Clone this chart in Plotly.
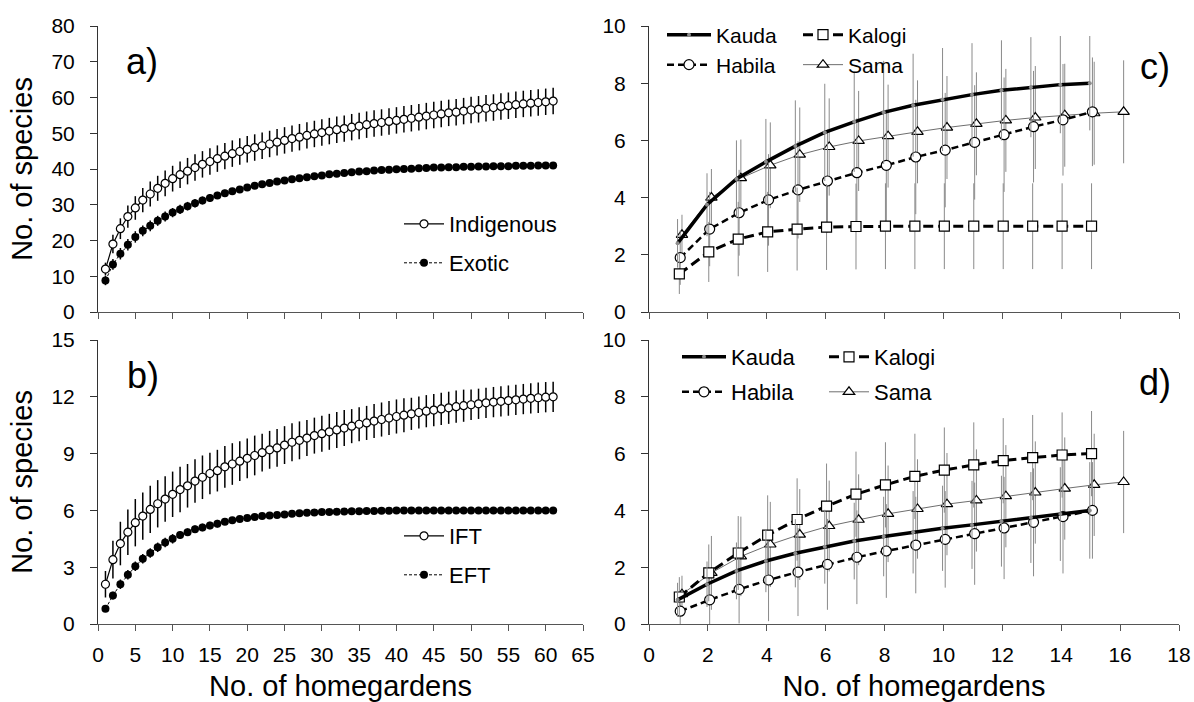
import plotly.graph_objects as go

FONT = "Liberation Sans, Arial, sans-serif"

# ---------------- data ----------------
n_gardens = list(range(1, 62))

indigenous = [12.0, 19.0, 23.3, 26.7, 29.1, 31.3, 33.0, 34.6, 36.0, 37.3,
              38.4, 39.4, 40.4, 41.3, 42.1, 42.9, 43.6, 44.3, 44.9, 45.5,
              46.0, 46.5, 47.0, 47.5, 48.0, 48.5, 48.9, 49.4, 49.8, 50.2,
              50.6, 51.0, 51.3, 51.7, 52.0, 52.4, 52.7, 53.0, 53.3, 53.6,
              53.9, 54.2, 54.5, 54.8, 55.1, 55.4, 55.7, 55.9, 56.2, 56.5,
              56.7, 57.0, 57.2, 57.5, 57.7, 58.0, 58.2, 58.4, 58.6, 58.8,
              59.0]
indigenous_sd = [1.8, 2.6, 2.9, 3.1, 3.3, 3.4, 3.5, 3.5, 3.6, 3.6,
                 3.7, 3.7, 3.7, 3.7, 3.7, 3.7, 3.7, 3.7, 3.7, 3.7,
                 3.7, 3.7, 3.7, 3.7, 3.7, 3.7, 3.7, 3.7, 3.7, 3.7,
                 3.7, 3.7, 3.7, 3.7, 3.7, 3.7, 3.7, 3.7, 3.7, 3.7,
                 3.7, 3.7, 3.7, 3.7, 3.7, 3.7, 3.7, 3.7, 3.7, 3.7,
                 3.7, 3.7, 3.7, 3.7, 3.7, 3.7, 3.7, 3.7, 3.7, 3.7,
                 3.7]
exotic = [8.8, 13.3, 16.3, 18.8, 21.0, 22.7, 24.1, 25.5, 26.7, 27.8,
          28.7, 29.6, 30.4, 31.2, 31.9, 32.6, 33.2, 33.8, 34.3, 34.8,
          35.3, 35.7, 36.1, 36.5, 36.8, 37.1, 37.4, 37.7, 38.0, 38.2,
          38.5, 38.7, 38.9, 39.1, 39.3, 39.4, 39.6, 39.7, 39.8, 39.9,
          40.0, 40.1, 40.2, 40.3, 40.4, 40.4, 40.5, 40.5, 40.6, 40.6,
          40.7, 40.7, 40.8, 40.8, 40.8, 40.9, 40.9, 40.9, 41.0, 41.0,
          41.0]
exotic_sd = [1.3, 1.5, 1.6, 1.6, 1.6, 1.5, 1.5, 1.4, 1.4, 1.3,
             1.3, 1.2, 1.2, 1.1, 1.1, 1.0, 1.0, 0.9, 0.9, 0.9,
             0.8, 0.8, 0.8, 0.7, 0.7, 0.7, 0.7, 0.6, 0.6, 0.6,
             0.6, 0.5, 0.5, 0.5, 0.5, 0.5, 0.4, 0.4, 0.4, 0.4,
             0.4, 0.4, 0.3, 0.3, 0.3, 0.3, 0.3, 0.3, 0.3, 0.3,
             0.2, 0.2, 0.2, 0.2, 0.2, 0.2, 0.2, 0.1, 0.1, 0.1,
             0.0]

ift = [2.1, 3.4, 4.25, 4.85, 5.35, 5.7, 6.05, 6.35, 6.6, 6.85,
       7.1, 7.3, 7.55, 7.75, 7.95, 8.1, 8.3, 8.45, 8.6, 8.75,
       8.9, 9.05, 9.2, 9.3, 9.45, 9.6, 9.7, 9.82, 9.95, 10.05,
       10.15, 10.25, 10.35, 10.45, 10.55, 10.62, 10.72, 10.8, 10.88, 10.96,
       11.03, 11.1, 11.17, 11.24, 11.3, 11.36, 11.42, 11.48, 11.53, 11.58,
       11.63, 11.68, 11.72, 11.76, 11.8, 11.84, 11.88, 11.92, 11.95, 11.98,
       12.0]
ift_sd = [0.7, 1.0, 1.15, 1.2, 1.25, 1.25, 1.25, 1.25, 1.2, 1.2,
          1.2, 1.15, 1.15, 1.15, 1.1, 1.1, 1.1, 1.1, 1.05, 1.05,
          1.05, 1.0, 1.0, 1.0, 1.0, 1.0, 1.0, 0.95, 0.95, 0.95,
          0.95, 0.95, 0.95, 0.9, 0.9, 0.9, 0.9, 0.9, 0.9, 0.9,
          0.9, 0.85, 0.85, 0.85, 0.85, 0.85, 0.85, 0.85, 0.85, 0.8,
          0.8, 0.8, 0.8, 0.8, 0.8, 0.8, 0.8, 0.8, 0.8, 0.8,
          0.8]
eft = [0.8, 1.5, 2.1, 2.6, 3.05, 3.45, 3.75, 4.05, 4.3, 4.5,
       4.7, 4.85, 5.0, 5.1, 5.2, 5.3, 5.4, 5.48, 5.55, 5.6,
       5.65, 5.7, 5.73, 5.76, 5.79, 5.82, 5.85, 5.87, 5.89, 5.91,
       5.92, 5.93, 5.94, 5.95, 5.96, 5.97, 5.97, 5.98, 5.98, 5.99,
       5.99, 5.99, 6.0, 6.0, 6.0, 6.0, 6.0, 6.0, 6.0, 6.0,
       6.0, 6.0, 6.0, 6.0, 6.0, 6.0, 6.0, 6.0, 6.0, 6.0,
       6.0]
eft_sd = [0.15, 0.2, 0.25, 0.25, 0.25, 0.25, 0.25, 0.25, 0.25, 0.25,
          0.2, 0.2, 0.2, 0.2, 0.2, 0.2, 0.15, 0.15, 0.15, 0.15,
          0.15, 0.15, 0.1, 0.1, 0.1, 0.1, 0.1, 0.1, 0.1, 0.1,
          0.05, 0.05, 0.05, 0.05, 0.05, 0.05, 0.05, 0.05, 0.05, 0.05,
          0.0, 0.0, 0.0, 0.0, 0.0, 0.0, 0.0, 0.0, 0.0, 0.0,
          0.0, 0.0, 0.0, 0.0, 0.0, 0.0, 0.0, 0.0, 0.0, 0.0,
          0.0]

n_village = list(range(1, 16))
n_sama = list(range(1, 17))

# panel c
c_kauda = [2.4, 3.75, 4.65, 5.25, 5.8, 6.28, 6.65, 6.98, 7.23, 7.43, 7.6, 7.75, 7.86, 7.95, 8.0]
c_kauda_sd = [0.85, 1.1, 1.35, 1.5, 1.6, 1.7, 1.75, 1.8, 1.8, 1.8, 1.8, 1.75, 1.75, 1.7, 1.65]
c_kalogi = [1.33, 2.1, 2.55, 2.8, 2.9, 2.97, 2.99, 3.0, 3.0, 3.0, 3.0, 3.0, 3.0, 3.0, 3.0]
c_kalogi_sd = [0.7, 1.05, 1.3, 1.4, 1.45, 1.5, 1.5, 1.5, 1.5, 1.5, 1.5, 1.5, 1.5, 1.5, 1.5]
c_habila = [1.9, 2.9, 3.47, 3.92, 4.27, 4.58, 4.87, 5.13, 5.42, 5.66, 5.93, 6.2, 6.48, 6.72, 7.0]
c_habila_sd = [0.95, 1.3, 1.5, 1.6, 1.7, 1.8, 1.9, 1.95, 2.0, 2.0, 2.0, 2.0, 1.95, 1.95, 1.9]
c_sama = [2.7, 4.0, 4.68, 5.13, 5.5, 5.77, 5.98, 6.15, 6.3, 6.45, 6.58, 6.7, 6.8, 6.88, 6.95, 7.0]
c_sama_sd = [0.7, 1.0, 1.35, 1.5, 1.65, 1.7, 1.75, 1.8, 1.8, 1.8, 1.8, 1.8, 1.8, 1.8, 1.8, 1.8]

# panel d
d_kauda = [0.85, 1.4, 1.87, 2.22, 2.49, 2.72, 2.92, 3.08, 3.23, 3.37, 3.49, 3.62, 3.75, 3.87, 4.0]
d_kauda_sd = [0.6, 0.8, 1.0, 1.1, 1.2, 1.3, 1.35, 1.4, 1.45, 1.5, 1.55, 1.6, 1.6, 1.65, 1.7]
d_kalogi = [0.95, 1.8, 2.5, 3.13, 3.68, 4.15, 4.57, 4.9, 5.2, 5.42, 5.6, 5.75, 5.86, 5.95, 6.0]
d_kalogi_sd = [0.7, 1.0, 1.3, 1.4, 1.45, 1.5, 1.5, 1.5, 1.5, 1.5, 1.5, 1.5, 1.5, 1.5, 1.5]
d_habila = [0.45, 0.85, 1.22, 1.55, 1.83, 2.1, 2.35, 2.57, 2.78, 2.98, 3.18, 3.38, 3.58, 3.78, 4.0]
d_habila_sd = [0.5, 0.85, 1.2, 1.45, 1.55, 1.6, 1.65, 1.65, 1.7, 1.7, 1.8, 1.8, 1.9, 2.0, 1.7]
d_sama = [1.05, 1.8, 2.38, 2.8, 3.15, 3.45, 3.67, 3.88, 4.05, 4.22, 4.35, 4.5, 4.63, 4.77, 4.9, 5.0]
d_sama_sd = [0.65, 1.3, 1.4, 1.5, 1.6, 1.6, 1.6, 1.7, 1.75, 1.8, 1.8, 1.8, 1.8, 1.8, 1.8, 1.8]

x_ticks_ab = [0, 5, 10, 15, 20, 25, 30, 35, 40, 45, 50, 55, 60, 65]
x_ticks_cd = [0, 2, 4, 6, 8, 10, 12, 14, 16, 18]

# ---------------- styles ----------------
shift = {"Kauda": -0.03, "Kalogi": 0.03, "Habila": 0.06, "Sama": 0.12}
GREY = "#8a8a8a"

fig = go.Figure()


def err(vals, color="black", thick=1.5):
    return dict(type="data", array=vals, visible=True, color=color, thickness=thick, width=0)


# panel a
fig.add_trace(go.Scatter(x=n_gardens, y=indigenous, mode="lines+markers", name="Indigenous",
                         line=dict(color="black", width=1.2),
                         marker=dict(symbol="circle", size=8, color="white", line=dict(color="black", width=1.2)),
                         error_y=err(indigenous_sd), xaxis="x", yaxis="y", legend="legend"))
fig.add_trace(go.Scatter(x=n_gardens, y=exotic, mode="lines+markers", name="Exotic",
                         line=dict(color="black", width=1, dash="3px,2px"),
                         marker=dict(symbol="circle", size=8, color="black"),
                         error_y=err(exotic_sd), xaxis="x", yaxis="y", legend="legend2"))
# panel b
fig.add_trace(go.Scatter(x=n_gardens, y=ift, mode="lines+markers", name="IFT",
                         line=dict(color="black", width=1.2),
                         marker=dict(symbol="circle", size=8, color="white", line=dict(color="black", width=1.2)),
                         error_y=err(ift_sd), xaxis="x2", yaxis="y2", legend="legend3"))
fig.add_trace(go.Scatter(x=n_gardens, y=eft, mode="lines+markers", name="EFT",
                         line=dict(color="black", width=1, dash="3px,2px"),
                         marker=dict(symbol="circle", size=8, color="black"),
                         error_y=err(eft_sd), xaxis="x2", yaxis="y2", legend="legend4"))


def village_traces(xa, ya, kauda, kauda_sd, kalogi, kalogi_sd, habila, habila_sd, sama, sama_sd, legs):
    fig.add_trace(go.Scatter(x=[v + shift["Sama"] for v in n_sama], y=sama, mode="lines+markers", name="Sama",
                             line=dict(color="#6e6e6e", width=1),
                             marker=dict(symbol="triangle-up", size=10, color="white", line=dict(color="black", width=1.2)),
                             error_y=err(sama_sd, GREY, 1), xaxis=xa, yaxis=ya, legend=legs[3]))
    fig.add_trace(go.Scatter(x=[v + shift["Habila"] for v in n_village], y=habila, mode="lines+markers", name="Habila",
                             line=dict(color="black", width=2.5, dash="7px,4px"),
                             marker=dict(symbol="circle", size=10, color="white", line=dict(color="black", width=1.2)),
                             error_y=err(habila_sd, GREY, 1), xaxis=xa, yaxis=ya, legend=legs[1]))
    fig.add_trace(go.Scatter(x=[v + shift["Kalogi"] for v in n_village], y=kalogi, mode="lines+markers", name="Kalogi",
                             line=dict(color="black", width=3, dash="10px,5px"),
                             marker=dict(symbol="square", size=10, color="white", line=dict(color="black", width=1.2)),
                             error_y=err(kalogi_sd, GREY, 1), xaxis=xa, yaxis=ya, legend=legs[2]))
    fig.add_trace(go.Scatter(x=[v + shift["Kauda"] for v in n_village], y=kauda, mode="lines+markers", name="Kauda",
                             line=dict(color="black", width=3.5),
                             marker=dict(symbol="circle", size=4, color="#8c8c8c"),
                             error_y=err(kauda_sd, GREY, 1), xaxis=xa, yaxis=ya, legend=legs[0]))


village_traces("x3", "y3", c_kauda, c_kauda_sd, c_kalogi, c_kalogi_sd, c_habila, c_habila_sd, c_sama, c_sama_sd,
               ["legend5", "legend6", "legend7", "legend8"])
village_traces("x4", "y4", d_kauda, d_kauda_sd, d_kalogi, d_kalogi_sd, d_habila, d_habila_sd, d_sama, d_sama_sd,
               ["legend9", "legend10", "legend11", "legend12"])

W, H = 1194, 702
dom_x_left = [98 / W, 583 / W]
dom_x_right = [649 / W, 1179 / W]
dom_y_top = [1 - 312 / H, 1 - 26 / H]
dom_y_bot = [1 - 624 / H, 1 - 340 / H]

tickfont = dict(family=FONT, size=21, color="black")
titlefont = dict(family=FONT, size=29, color="black")


def xax(domain, anchor, rng, ticks, labels, title=None):
    d = dict(domain=domain, anchor=anchor, range=rng, tickmode="array", tickvals=ticks,
             showticklabels=labels, ticks="outside", ticklen=6, tickcolor="#555", tickwidth=1,
             showline=True, linecolor="#555", linewidth=1, showgrid=False, zeroline=False,
             tickfont=tickfont, automargin=False, ticklabeloverflow="allow", ticklabelstandoff=6)
    if title:
        d["title"] = dict(text=title, font=titlefont, standoff=10)
    return d


def yax(domain, anchor, rng, dtick, title=None):
    d = dict(domain=domain, anchor=anchor, range=rng, tick0=0, dtick=dtick,
             ticks="outside", ticklen=7, tickcolor="#333", tickwidth=1,
             showline=True, linecolor="#333", linewidth=1, showgrid=False, zeroline=False,
             tickfont=tickfont, automargin=False, ticklabelstandoff=11, ticklabeloverflow="allow")
    if title:
        d["title"] = dict(text=title, font=titlefont, standoff=10)
    return d


def leg(x_px, y_px, size, itemw):
    return dict(x=x_px / W, y=1 - y_px / H, xanchor="left", yanchor="middle", xref="paper", yref="paper",
                bgcolor="rgba(0,0,0,0)", borderwidth=0, font=dict(family=FONT, size=size, color="black"),
                itemwidth=itemw, tracegroupgap=0)


fig.update_layout(
    width=W, height=H,
    margin=dict(l=0, r=0, t=0, b=0),
    paper_bgcolor="white", plot_bgcolor="white",
    font=dict(family=FONT, color="black"),
    xaxis=xax(dom_x_left, "y", [0, 65], x_ticks_ab, False),
    yaxis=yax(dom_y_top, "x", [0, 80], 10, "No. of species"),
    xaxis2=xax(dom_x_left, "y2", [0, 65], x_ticks_ab, True, "No. of homegardens"),
    yaxis2=yax(dom_y_bot, "x2", [0, 15], 3, "No. of species"),
    xaxis3=xax(dom_x_right, "y3", [0, 18], x_ticks_cd, False),
    yaxis3=yax(dom_y_top, "x3", [0, 10], 2),
    xaxis4=xax(dom_x_right, "y4", [0, 18], x_ticks_cd, True, "No. of homegardens"),
    yaxis4=yax(dom_y_bot, "x4", [0, 10], 2),
    legend=leg(399, 224, 22, 40),
    legend2=leg(399, 263, 22, 40),
    legend3=leg(399, 536, 22, 40),
    legend4=leg(399, 575, 22, 40),
    legend5=leg(662, 35, 21, 44),
    legend6=leg(662, 65, 21, 44),
    legend7=leg(798, 35, 21, 40),
    legend8=leg(798, 65, 21, 40),
    legend9=leg(677, 357, 22, 44),
    legend10=leg(677, 392, 22, 44),
    legend11=leg(824, 357, 22, 40),
    legend12=leg(824, 392, 22, 40),
    showlegend=True,
)

panel_font = dict(family=FONT, size=36, color="black")
for txt, xr, yr, xv, yv in [("a)", "x", "y", 5.9, 70.2), ("b)", "x2", "y2", 6.0, 13.1),
                            ("c)", "x3", "y3", 17.2, 8.6), ("d)", "x4", "y4", 17.2, 8.5)]:
    fig.add_annotation(text=txt, x=xv, y=yv, xref=xr, yref=yr, showarrow=False, font=panel_font,
                       xanchor="center", yanchor="middle")

fig.write_html("out.html", config={"displayModeBar": False},
               post_script="document.body.style.margin='0';document.body.style.overflow='hidden';")
